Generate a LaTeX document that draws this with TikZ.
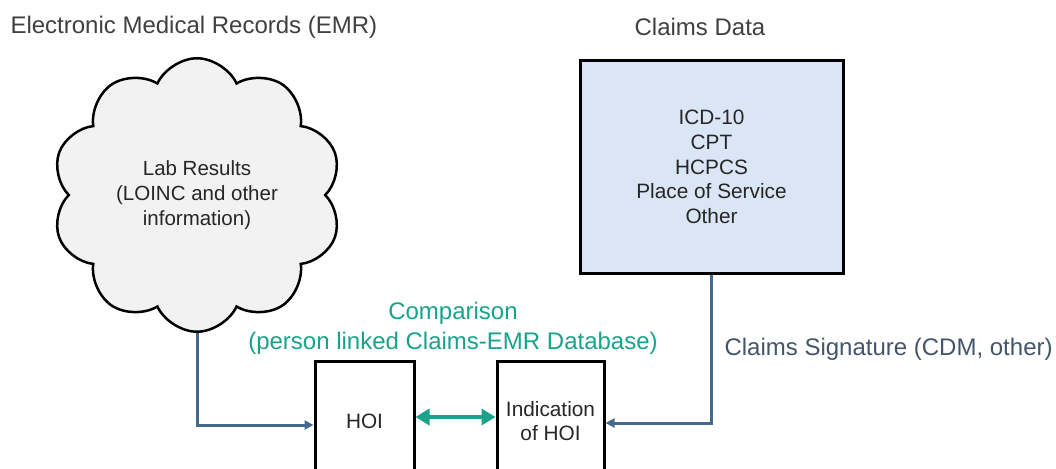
\documentclass[tikz,border=0pt]{standalone}
\usepackage{fontspec}
\setmainfont{Liberation Sans}
\usetikzlibrary{shapes.symbols,arrows.meta}
\definecolor{titlegray}{RGB}{64,64,64}
\definecolor{textgray}{RGB}{38,38,38}
\definecolor{sigblue}{RGB}{68,84,106}
\definecolor{linkblue}{RGB}{68,104,142}
\definecolor{compgreen}{RGB}{24,163,138}
\definecolor{boxblue}{RGB}{218,230,245}
\definecolor{cloudgray}{RGB}{242,242,242}
\begin{document}
\begin{tikzpicture}[x=1pt,y=-1pt,
    title/.style={font=\fontsize{24}{29}\selectfont,text=titlegray},
    box/.style={draw=black,line width=3pt,align=center,text=textgray,
      font=\fontsize{20.8}{24.7}\selectfont},
    link/.style={draw=linkblue,line width=3pt,-{Triangle[length=9pt,width=9pt]}}]
	\useasboundingbox (0,0) rectangle (1056,468);
	\clip (0,0) rectangle (1056,468);
	\node[title,anchor=west] (emr) at (7,27) {Electronic Medical Records (EMR)};
	\node[title] (cdata) at (700,27) {Claims Data};
	\node[cloud,cloud puffs=10,cloud puff arc=130,draw,fill=cloudgray,line width=2.5pt,
	  minimum width=290pt,minimum height=270pt,align=center,text=textgray,
	  font=\fontsize{20.5}{25}\selectfont] (lab) at (197,195)
	  {Lab Results\\(LOINC and other\\information)};
	\node[box,fill=boxblue,minimum width=263pt,minimum height=212pt] (claims) at (711.5,167)
	  {ICD-10\\CPT\\HCPCS\\Place of Service\\Other};
	\node[box,minimum width=99pt,minimum height=120pt] (hoi) at (364.5,421) {HOI};
	\node[box,minimum width=107pt,minimum height=120pt] (ind) at (550.5,421) {Indication\\of HOI};
	\node[text=compgreen,align=center,font=\fontsize{24}{30}\selectfont] (comp) at (453,328)
	  {Comparison\\(person linked Claims-EMR Database)};
	\node[text=sigblue,anchor=west,font=\fontsize{24}{29}\selectfont] (sig) at (721,349)
	  {Claims Signature (CDM, other)};
	\draw[link] (lab.south) |- ([yshift=-4pt]hoi.west);
	\draw[link] (claims.south) |- ([yshift=-2pt]ind.east);
	\draw[compgreen,line width=4.5pt,{Triangle[length=14pt,width=16pt]}-{Triangle[length=14pt,width=16pt]}]
	  ([yshift=4pt]hoi.east) -- ([yshift=4pt]ind.west);
\end{tikzpicture}
\end{document}
